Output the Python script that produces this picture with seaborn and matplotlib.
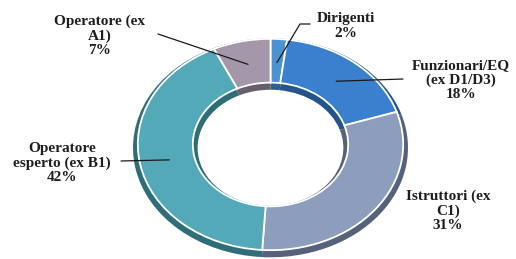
import numpy as np
import matplotlib
matplotlib.use("Agg")
import matplotlib.pyplot as plt
import seaborn as sns

# data (clockwise from the top)
categories = ["Dirigenti", "Funzionari/EQ (ex D1/D3)", "Istruttori (ex C1)",
              "Operatore esperto (ex B1)", "Operatore (ex A1)"]
label_lines = ["Dirigenti", "Funzionari/EQ\n(ex D1/D3)", "Istruttori (ex\nC1)",
               "Operatore\nesperto (ex B1)", "Operatore (ex\nA1)"]
shares = [2, 18, 31, 42, 7]
colors = ["#4a92d2", "#3b80cf", "#8c9dbd", "#53a9b8", "#a597aa"]
dark_colors = ["#2c5f8f", "#24548c", "#56627c", "#2f6e78", "#675d6b"]

sns.set_theme(style="white")
plt.rcParams["font.family"] = ["Liberation Serif", "DejaVu Serif"]

W, H = 516, 259
fig = plt.figure(figsize=(W / 100, H / 100), dpi=100)
fig.patch.set_facecolor("white")

# pie box in pixels (ellipse, tilted look)
left, right, top, bottom = 133, 408, 35, 254
ax = fig.add_axes([left / W, 1 - bottom / H, (right - left) / W, (bottom - top) / H])
ax.axis("off")

# darker "depth" layer
ax.pie(shares, colors=dark_colors, startangle=90, counterclock=False,
       radius=1.0, center=(0.0, -0.03),
       wedgeprops=dict(width=0.47, edgecolor="none"))
wedges, _ = ax.pie(shares, colors=colors, startangle=90, counterclock=False,
                   radius=0.965, center=(0.0, 0.0),
                   wedgeprops=dict(width=0.40, edgecolor="white", linewidth=1.3))
ax.set_xlim(-1, 1)
ax.set_ylim(-1, 1)
ax.set_aspect("auto")

def px2data(px, py):
    cx, cy = (left + right) / 2, (top + bottom) / 2
    return (px - cx) / ((right - left) / 2), (cy - py) / ((bottom - top) / 2)

# label centres (pixels) and leader line start points (pixels)
label_pos = [(346, 26), (461, 80), (448, 211), (62, 163), (100, 36)]
leader_start = [[(310, 24), (300, 24)], [(403, 79)], None, [(121, 161)], [(158, 34)]]

for w, txt, v, (lx, ly), lead in zip(wedges, label_lines, shares, label_pos, leader_start):
    fig.text(lx / W, 1 - ly / H, f"{txt}\n{v}%", ha="center", va="center",
             fontsize=11, fontweight="bold", color="#1e1e1e", linespacing=1.12)
    if lead is None:
        continue
    ang = np.deg2rad((w.theta1 + w.theta2) / 2)
    end = (0.75 * np.cos(ang), 0.75 * np.sin(ang))
    pts = [px2data(*p) for p in lead] + [end]
    xs, ys = zip(*pts)
    ax.plot(xs, ys, color="#1a1a1a", lw=0.9, clip_on=False)

fig.savefig("out.png", dpi=100, facecolor="white")
